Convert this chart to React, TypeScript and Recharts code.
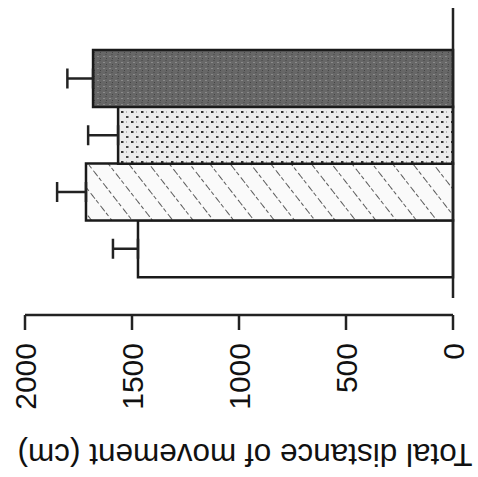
import { BarChart, Bar, XAxis, YAxis, ErrorBar, Cell, Label } from 'recharts';

// groups, drawn bottom to top
const groups = ['Group 1', 'Group 2', 'Group 3', 'Group 4'];
const means = [1472, 1715, 1565, 1682];
const errors = [117, 135, 140, 120];
const valueTicks = [0, 500, 1000, 1500, 2000];
const fills = ['#ffffff', 'url(#hatch)', 'url(#dots)', 'url(#dark)'];

const data = groups.map((g, i) => ({ group: g, value: means[i], err: [0, errors[i]] }));

const FONT = '"Liberation Sans", Arial, sans-serif';

const ValueTick = ({ x, y, payload }: any) => (
  <g>
    <line x1={x} x2={x} y1={y + 17} y2={y + 32} stroke="#222" strokeWidth={2.5} />
    <text
      x={x}
      y={y + 45}
      transform={`rotate(-90 ${x} ${y + 45})`}
      textAnchor="end"
      dominantBaseline="central"
      fontFamily={FONT}
      fontSize={30}
      fill="#111"
    >
      {payload.value}
    </text>
  </g>
);

const AxisTitle = () => {
  const cx = 245;
  const cy = 455;
  return (
    <text
      x={cx}
      y={cy}
      transform={`rotate(180 ${cx} ${cy})`}
      textAnchor="middle"
      dominantBaseline="central"
      fontFamily={FONT}
      fontSize={31.5}
      fill="#111"
    >
      Total distance of movement (cm)
    </text>
  );
};

export default function App() {
  return (
    <div style={{ position: 'absolute', left: 0, top: 0, background: '#fff' }}>
      <BarChart
        width={478}
        height={477}
        data={data}
        layout="vertical"
        margin={{ top: 8, right: 0, bottom: 0, left: 25 }}
        barCategoryGap={0}
      >
        <defs>
          <pattern id="hatch" width="16" height="16" patternUnits="userSpaceOnUse" patternTransform="rotate(-38)">
            <rect width="16" height="16" fill="#fafafa" />
            <line x1="0" y1="0" x2="0" y2="16" stroke="#333" strokeWidth="1.6" strokeDasharray="7 2 4 3" />
          </pattern>
          <pattern id="dots" width="10" height="10" patternUnits="userSpaceOnUse">
            <rect width="10" height="10" fill="#ececec" />
            <rect x="1" y="1" width="2.5" height="2" fill="#333" />
            <rect x="6" y="6" width="2.5" height="2" fill="#444" />
            <rect x="6" y="1.5" width="1" height="1" fill="#888" />
          </pattern>
          <pattern id="dark" width="6" height="6" patternUnits="userSpaceOnUse">
            <rect width="6" height="6" fill="#676767" />
            <rect x="1" y="2" width="2" height="1" fill="#8a8a8a" />
            <rect x="4" y="4" width="1" height="1" fill="#444" />
            <rect x="3" y="0" width="2" height="1" fill="#555" />
          </pattern>
        </defs>
        <XAxis
          type="number"
          dataKey="value"
          domain={[0, 2000]}
          ticks={valueTicks}
          reversed
          height={179}
          interval={0}
          tickSize={0}
          tickMargin={0}
          tickLine={false}
          tick={<ValueTick />}
          axisLine={{ stroke: '#222', strokeWidth: 2.5, transform: 'translate(0,17)' }}
        >
          <Label content={<AxisTitle />} />
        </XAxis>
        <YAxis
          type="category"
          dataKey="group"
          orientation="right"
          width={25}
          reversed
          tick={false}
          tickLine={false}
          padding={{ top: 42, bottom: 21 }}
          axisLine={{ stroke: '#222', strokeWidth: 2.5 }}
        />
        <Bar dataKey="value" stroke="#1a1a1a" strokeWidth={2.5} isAnimationActive={false}>
          {data.map((d, i) => (
            <Cell key={d.group} fill={fills[i]} />
          ))}
          <ErrorBar dataKey="err" direction="x" width={10} stroke="#222" strokeWidth={2.5} isAnimationActive={false} />
        </Bar>
      </BarChart>
    </div>
  );
}
